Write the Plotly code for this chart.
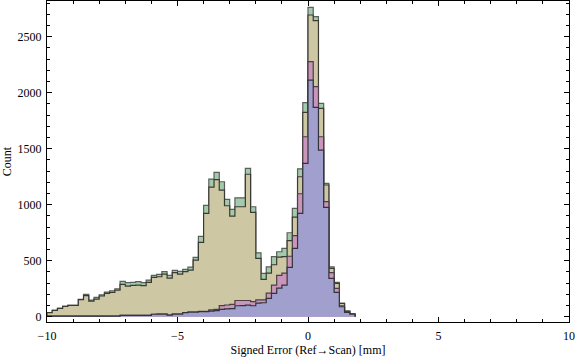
import plotly.graph_objects as go

# Bin layout: left edges from -10.0 in steps of 0.2
bin_start = -10.0
bin_width = 0.2

green = [36, 57, 74, 92, 101, 101, 155, 199, 149, 173, 196, 220, 232, 250, 315, 304, 307, 313, 304, 327,
         369, 378, 402, 369, 414, 405, 423, 443, 530, 717, 994, 1229, 1289, 1205, 1048, 958, 1062, 1062, 1324, 982,
         571, 387, 446, 536, 580, 610, 750, 967, 1321, 1911, 2762, 2679, 1905, 1190, 446, 307, 119, 51, 24]
khaki = [36, 57, 74, 92, 101, 101, 153, 188, 140, 158, 185, 208, 217, 238, 289, 274, 280, 283, 277, 307,
         351, 357, 381, 345, 393, 381, 402, 417, 506, 664, 923, 1158, 1225, 1131, 991, 899, 982, 982, 1272, 932,
         521, 333, 390, 464, 533, 536, 680, 890, 1250, 1825, 2694, 2643, 1861, 1176, 432, 298, 119, 51, 24]
pink = [5, 5, 5, 5, 5, 5, 5, 5, 5, 5, 5, 5, 6, 6, 12, 12, 12, 12, 12, 12,
        22, 24, 24, 15, 24, 24, 36, 42, 42, 48, 48, 62, 65, 100, 105, 110, 145, 145, 145, 135,
        150, 150, 210, 283, 370, 390, 540, 725, 1098, 1607, 2277, 2054, 1607, 1027, 393, 253, 98, 45, 24]
blue = [5, 5, 5, 5, 5, 5, 5, 5, 5, 5, 5, 5, 6, 6, 12, 12, 12, 12, 12, 12,
        22, 24, 24, 15, 24, 24, 36, 42, 42, 45, 45, 50, 54, 65, 70, 72, 98, 100, 104, 98,
        122, 125, 164, 208, 255, 283, 440, 610, 923, 1369, 2113, 1870, 1488, 976, 342, 217, 89, 39, 24]

series = [
    ("A", green, "#a3cbab", "#5a5f5a"),
    ("B", khaki, "#cdc8a3", "#3a3a34"),
    ("C", pink, "#c996ba", "#4a3f46"),
    ("D", blue, "#a09fce", "#33333a"),
]

fig = go.Figure()
for name, vals, fillc, linec in series:
    n = len(vals)
    edges = [bin_start + bin_width * i for i in range(n + 1)]
    xs = [edges[0]] + edges + [edges[-1]]
    ys = [0] + list(vals) + [vals[-1], 0]
    fig.add_trace(go.Scatter(
        x=xs, y=ys, mode="lines", line=dict(shape="hv", color=linec, width=1.2),
        fill="tozeroy", fillcolor=fillc, name=name, showlegend=False, hoverinfo="skip",
    ))

font = dict(family="Liberation Serif, Times New Roman, serif", size=12, color="black")

fig.update_layout(
    width=576, height=362,
    margin=dict(l=47, r=7, t=1, b=40),
    paper_bgcolor="white", plot_bgcolor="white",
    font=font,
    xaxis=dict(
        range=[-10, 10], tickvals=[-10, -5, 0, 5, 10], ticktext=["\u221210", "\u22125", "0", "5", "10"],
        ticks="inside", ticklen=5, tickcolor="black", showline=True, linecolor="black", linewidth=1,
        mirror="ticks", showgrid=False, zeroline=False,
        minor=dict(ticks="inside", dtick=1, ticklen=3, tickcolor="black", showgrid=False),
        title=dict(text="Signed Error (Ref\u2192Scan) [mm]", standoff=1, font=font),
        ticklabelstandoff=3,
    ),
    yaxis=dict(
        range=[-47, 2819], tickvals=[0, 500, 1000, 1500, 2000, 2500],
        ticks="inside", ticklen=5, tickcolor="black", showline=True, linecolor="black", linewidth=1,
        mirror="ticks", showgrid=False, zeroline=False,
        minor=dict(ticks="inside", dtick=100, tick0=0, ticklen=3, tickcolor="black", showgrid=False),
        title=dict(text="Count", standoff=6, font=font),
        ticklabelstandoff=2,
    ),
)

fig.write_html(
    "out.html",
    config={"displayModeBar": False, "staticPlot": True},
    post_script="document.body.style.margin='0';document.body.style.overflow='hidden';",
)
